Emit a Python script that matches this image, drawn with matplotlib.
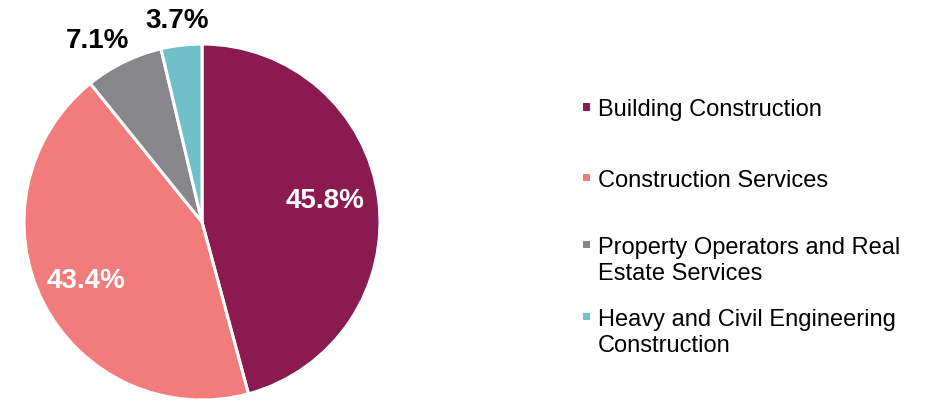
import matplotlib
matplotlib.use("Agg")
import matplotlib.pyplot as plt
from matplotlib.patches import Rectangle
import numpy as np

categories = ["Building Construction", "Construction Services",
              "Property Operators and Real\nEstate Services",
              "Heavy and Civil Engineering\nConstruction"]
values = [45.8, 43.4, 7.1, 3.7]
colors = ["#8A1A4F", "#F27C7B", "#86868B", "#6FC0C8"]
label_colors = ["white", "white", "black", "black"]
label_dist = [0.70, 0.73, 1.175, 1.14]
label_angle_shift = [2.0, 0, 4.0, 0.5]

plt.rcParams['font.family'] = ['Liberation Sans', 'DejaVu Sans']

W, H = 931, 401
fig = plt.figure(figsize=(W / 100, H / 100), dpi=100)
cx, cy, R = 202, 222, 178
ax = fig.add_axes([(cx - R) / W, (H - cy - R) / H, 2 * R / W, 2 * R / H])
wedges, _ = ax.pie(values, colors=colors, startangle=90, counterclock=False,
                   radius=1.0, wedgeprops=dict(edgecolor="white", linewidth=2.2))
ax.set_xlim(-1, 1)
ax.set_ylim(-1, 1)
ax.set_aspect('equal')
ax.axis('off')

for w, v, c, d, s in zip(wedges, values, label_colors, label_dist, label_angle_shift):
    ang = np.deg2rad((w.theta1 + w.theta2) / 2 + s)
    ax.text(d * np.cos(ang), d * np.sin(ang), f"{v:.1f}%", color=c,
            fontsize=20, fontweight='bold', ha='center', va='center', clip_on=False)

# legend
legend_y = [110, 181, 261, 333]
for lab, col, y in zip(categories, colors, legend_y):
    n = lab.count("\n")
    fig.add_artist(Rectangle((583 / W, (H - (y - 3 - n * 13.5) - 3.5) / H), 7 / W, 7 / H,
                             transform=fig.transFigure, facecolor=col, edgecolor='none'))
    fig.text(598 / W, (H - y) / H, lab, fontsize=17, color='black',
             ha='left', va='center', linespacing=1.2)

fig.savefig("out.png", dpi=100)
